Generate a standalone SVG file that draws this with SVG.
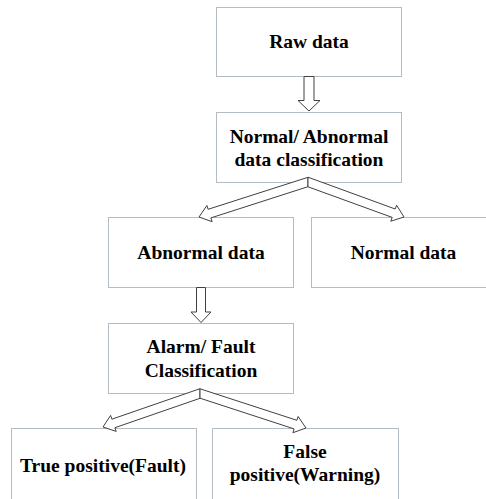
<svg xmlns="http://www.w3.org/2000/svg" width="486" height="499" viewBox="0 0 486 499">
<style>
.box{fill:#ffffff;stroke:#b4bcc4;stroke-width:1}
.arr{fill:#ffffff;stroke:#404040;stroke-width:1;stroke-linejoin:miter}
.t{font-weight:bold;font-size:19.5px;fill:#000000;text-anchor:middle}
</style>
<rect width="486" height="499" fill="#ffffff"/>
<g font-family="Liberation Serif, DejaVu Serif, serif">
<g id="raw-data">
<rect class="box" x="216.5" y="7.5" width="185" height="69"/>
<text class="t" x="309" y="48">Raw data</text>
</g>
<g id="normal-abnormal-classification">
<rect class="box" x="216.5" y="112.5" width="185" height="70"/>
<text class="t" x="309" y="142.5">Normal/ Abnormal</text>
<text class="t" x="309" y="166">data classification</text>
</g>
<g id="abnormal-data">
<rect class="box" x="108.5" y="217.5" width="185" height="70"/>
<text class="t" x="201" y="259">Abnormal data</text>
</g>
<g id="normal-data">
<rect class="box" x="311.5" y="217.5" width="185" height="70"/>
<text class="t" x="403.5" y="259">Normal data</text>
</g>
<g id="alarm-fault-classification">
<rect class="box" x="108.5" y="323.5" width="185" height="70"/>
<text class="t" x="201" y="353">Alarm/ Fault</text>
<text class="t" x="201" y="377">Classification</text>
</g>
<g id="true-positive">
<rect class="box" x="11.5" y="428.5" width="185" height="80"/>
<text class="t" x="103" y="471.5">True positive(Fault)</text>
</g>
<g id="false-positive">
<rect class="box" x="212.5" y="428.5" width="186" height="80"/>
<text class="t" x="305" y="458">False</text>
<text class="t" x="305" y="481">positive(Warning)</text>
</g>
</g>
<g id="connectors">
<polygon class="arr" points="304,76.5 314,76.5 314,100.5 320,100.5 309,111 298,100.5 304,100.5"/>
<polygon class="arr" points="308,177.3 208.1,209.3 206.9,205.5 199,217 212.1,221.7 210.9,217.9 308,186.7"/>
<polygon class="arr" points="308,177.2 395.2,209 396.6,205.2 404,217 390.8,221.2 392.2,217.4 308,186.8"/>
<polygon class="arr" points="196.5,287.5 205.5,287.5 205.5,312 211,312 201,322.5 191,312 196.5,312"/>
<polygon class="arr" points="200,388.7 111.9,419.2 110.6,415.4 103,427 116.2,431.4 114.9,427.7 200,398.3"/>
<polygon class="arr" points="200,388.8 296.9,420.3 298.1,416.5 306,428 292.9,432.7 294.1,428.9 200,398.2"/>
</g>
</svg>
